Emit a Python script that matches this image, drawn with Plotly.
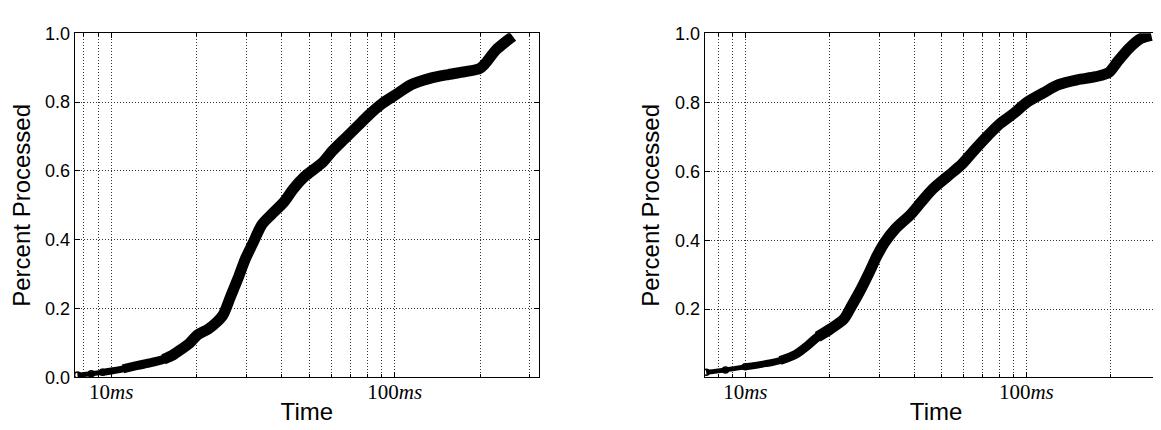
import plotly.graph_objects as go

# ---- data ----
left_time_ms = [7.6, 8.5, 9.3, 10.0, 11.0, 12.4, 13.8, 15.3, 16.3, 17.3, 18.9, 20.1, 22.0, 23.5,
                24.8, 26.3, 28.0, 29.7, 31.6, 34.0, 36.7, 40.7, 43.8, 48.0, 55.7, 60.1, 66.7,
                74.1, 81.1, 90.0, 101.5, 114.6, 133, 154.5, 179.5, 199, 208, 228, 246, 261]
left_pct = [0.007, 0.011, 0.015, 0.019, 0.025, 0.035, 0.043, 0.053, 0.063, 0.077, 0.100, 0.123,
            0.141, 0.160, 0.182, 0.233, 0.288, 0.344, 0.390, 0.444, 0.473, 0.510, 0.547, 0.583,
            0.625, 0.657, 0.694, 0.731, 0.763, 0.795, 0.823, 0.851, 0.869, 0.880, 0.889, 0.897,
            0.911, 0.952, 0.975, 0.991]

right_time_ms = [7.26, 8.5, 10.0, 11.8, 13.3, 15.1, 16.8, 18.1, 20.1, 22.4, 23.8, 25.6, 27.7,
                 29.4, 31.2, 34.2, 38.7, 42.3, 46.4, 52.3, 59.1, 64.8, 73.1, 80.1, 90.4, 100.6,
                 115.4, 130.3, 151.7, 176.6, 196.6, 212.3, 232.5, 254.6, 278.6]
right_pct = [0.017, 0.024, 0.033, 0.042, 0.051, 0.069, 0.097, 0.120, 0.143, 0.171, 0.207, 0.253,
             0.309, 0.354, 0.391, 0.433, 0.474, 0.511, 0.548, 0.584, 0.621, 0.658, 0.704, 0.736,
             0.768, 0.800, 0.828, 0.851, 0.865, 0.874, 0.886, 0.920, 0.957, 0.984, 0.994]

x_major_ticks = [10, 100]
x_major_labels = ["10<i>ms</i>", "100<i>ms</i>"]
x_minor_ticks = [8, 9, 20, 30, 40, 50, 60, 70, 80, 90, 200, 300]
left_y_ticks = [0.0, 0.2, 0.4, 0.6, 0.8, 1.0]
right_y_ticks = [0.2, 0.4, 0.6, 0.8, 1.0]

W, H = 1161, 430

fig = go.Figure()
for (xs, ys, xa, ya) in [(left_time_ms, left_pct, "x", "y"), (right_time_ms, right_pct, "x2", "y2")]:
    # band thickens as the points get denser: (start index, end index, width)
    for (a, b, w) in [(0, 4, 5), (2, 7, 7), (4, 10, 9), (7, len(xs), 11)]:
        fig.add_trace(go.Scatter(
            x=xs[a:b], y=ys[a:b], xaxis=xa, yaxis=ya, mode="lines",
            line=dict(color="black", width=w, shape="spline", smoothing=0.8),
            showlegend=False, hoverinfo="skip"))
    # sparse open markers at the very start
    fig.add_trace(go.Scatter(
        x=xs[:3], y=ys[:3], xaxis=xa, yaxis=ya, mode="markers",
        marker=dict(symbol="circle-open", size=6, color="black", line=dict(width=1.5, color="black")),
        showlegend=False, hoverinfo="skip"))

sans = "Liberation Sans, Arial, sans-serif"
serif = "Liberation Serif, Times New Roman, serif"

def xaxis(domain, rng):
    return dict(
        type="log", domain=domain, range=rng,
        tickmode="array", tickvals=x_major_ticks, ticktext=x_major_labels,
        tickfont=dict(family=serif, size=21, color="black"),
        ticklabelstandoff=-5,
        ticks="inside", ticklen=5, tickcolor="black",
        showgrid=True, gridcolor="#333", griddash="1px,2px", gridwidth=1,
        minor=dict(tickvals=x_minor_ticks, ticks="inside", ticklen=3, tickcolor="black",
                   showgrid=True, gridcolor="#333", griddash="1px,2px", gridwidth=1),
        showline=True, linecolor="black", linewidth=1, mirror="allticks",
        zeroline=False,
        title=dict(text="Time", font=dict(family=sans, size=24, color="black"), standoff=0),
    )

def yaxis(domain, rng, ticks):
    return dict(
        domain=domain, range=rng,
        tickmode="array", tickvals=ticks, ticktext=["%.1f" % t for t in ticks],
        tickfont=dict(family=sans, size=18, color="black"),
        ticks="inside", ticklen=5, tickcolor="black",
        showgrid=True, gridcolor="#333", griddash="1px,2px", gridwidth=1,
        showline=True, linecolor="black", linewidth=1, mirror="allticks",
        zeroline=False,
        title=dict(text="Percent Processed", font=dict(family=sans, size=24, color="black"), standoff=8),
    )

ydom = [1 - 377 / H, 1 - 16 / H]
xa1 = xaxis([66.7 / W, 531 / W], [0.871, 2.509]); xa1["anchor"] = "y"
xa2 = xaxis([696.7 / W, 1159.5 / W], [0.8555, 2.5025]); xa2["anchor"] = "y2"
ya1 = yaxis(ydom, [0.0, 1.0], left_y_ticks); ya1["anchor"] = "x"
ya2 = yaxis(ydom, [0.002, 1.0], right_y_ticks); ya2["anchor"] = "x2"

fig.update_layout(
    width=W, height=H, margin=dict(l=0, r=0, t=0, b=0),
    paper_bgcolor="white", plot_bgcolor="white",
    xaxis=xa1, yaxis=ya1, xaxis2=xa2, yaxis2=ya2,
    font=dict(family=sans, color="black"),
)

fig.write_html("out.html")
